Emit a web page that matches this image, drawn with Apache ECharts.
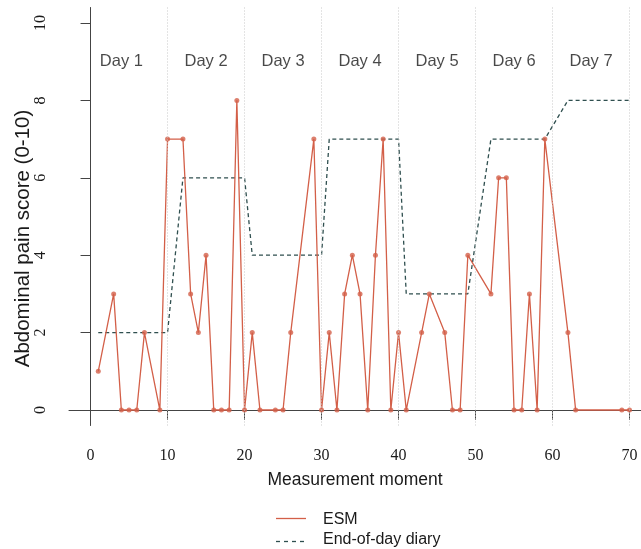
<!DOCTYPE html>
<html>
<head>
<meta charset="utf-8">
<script src="https://cdn.jsdelivr.net/npm/echarts@6/dist/echarts.min.js"></script>
<style>
  html, body { margin: 0; padding: 0; background: #fff; }
  #chart { width: 641px; height: 549px; }
</style>
</head>
<body>
<div id="chart"></div>
<script>
// Measurement moments that have an ESM response
const moments = [1, 3, 4, 5, 6, 7, 9, 10, 12, 13, 14, 15, 16, 17, 18, 19, 20, 21, 22, 24, 25, 26, 29, 30, 31, 32, 33, 34, 35, 36, 37, 38, 39, 40, 41, 43, 44, 46, 47, 48, 49, 52, 53, 54, 55, 56, 57, 58, 59, 62, 63, 69, 70];
// ESM abdominal pain scores at each moment
const esm = [1, 3, 0, 0, 0, 2, 0, 7, 7, 3, 2, 4, 0, 0, 0, 8, 0, 2, 0, 0, 0, 2, 7, 0, 2, 0, 3, 4, 3, 0, 4, 7, 0, 2, 0, 2, 3, 2, 0, 0, 4, 3, 6, 6, 0, 0, 3, 0, 7, 2, 0, 0, 0];
// End-of-day diary score carried over each moment of that day
const diary = [2, 2, 2, 2, 2, 2, 2, 2, 6, 6, 6, 6, 6, 6, 6, 6, 6, 4, 4, 4, 4, 4, 4, 4, 7, 7, 7, 7, 7, 7, 7, 7, 7, 7, 3, 3, 3, 3, 3, 3, 3, 7, 7, 7, 7, 7, 7, 7, 7, 8, 8, 8, 8];
// Day labels and where they sit
const dayLabels = ['Day 1', 'Day 2', 'Day 3', 'Day 4', 'Day 5', 'Day 6', 'Day 7'];
const dayLabelX = [4, 15, 25, 35, 45, 55, 65];
const dayLabelY = 9;
// Day boundaries
const dayBounds = [10, 20, 30, 40, 50, 60, 70];
// Axis ticks
const xTicks = [0, 10, 20, 30, 40, 50, 60, 70];
const yTicks = [0, 2, 4, 6, 8, 10];

const esmColor = '#d35f48';
const diaryColor = '#2f4f4f';
const axisColor = '#444';
const textColor = '#1a1a1a';
const serif = '"Liberation Serif", "DejaVu Serif", serif';
const sans = '"Liberation Sans", Arial, sans-serif';

const esmPairs = moments.map((m, i) => [m, esm[i]]);
const diaryPairs = moments.map((m, i) => [m, diary[i]]);
const dayPoints = dayLabelX.map((x, i) => [x, dayLabelY, dayLabels[i]]);

const chart = echarts.init(document.getElementById('chart'), null, { renderer: 'canvas' });

chart.setOption({
  animation: false,
  backgroundColor: '#fff',
  grid: { left: 69, top: 7.5, width: 572, height: 418, containLabel: false, outerBoundsMode: 'none' },
  xAxis: {
    type: 'value',
    min: -2.8,
    max: 71.49,
    name: 'Measurement moment',
    nameLocation: 'middle',
    nameGap: 46,
    nameMoveOverlap: false,
    nameTextStyle: { fontFamily: sans, fontSize: 17.5, color: textColor },
    axisLine: { show: true, lineStyle: { color: axisColor, width: 1 } },
    axisTick: { show: true, customValues: xTicks, length: 10, lineStyle: { color: axisColor } },
    axisLabel: { customValues: xTicks, margin: 22, fontFamily: serif, fontSize: 16, color: textColor },
    splitLine: { show: false }
  },
  yAxis: {
    type: 'value',
    min: -0.4,
    max: 10.4,
    name: 'Abdominal pain score (0-10)',
    nameLocation: 'middle',
    nameGap: 35.5,
    nameRotate: 90,
    nameMoveOverlap: false,
    nameTextStyle: { fontFamily: sans, fontSize: 20.5, color: textColor, padding: [0, 44, 0, 0] },
    axisLine: { show: true, lineStyle: { color: axisColor, width: 1 } },
    axisTick: { show: true, customValues: yTicks, length: 10, lineStyle: { color: axisColor } },
    axisLabel: { customValues: yTicks, rotate: 90, margin: 20, fontFamily: serif, fontSize: 16, color: textColor },
    splitLine: { show: false }
  },
  // Legend key drawn below the plot
  graphic: [
    { type: 'line', shape: { x1: 276, y1: 518.5, x2: 306, y2: 518.5 }, style: { stroke: esmColor, lineWidth: 1.3 }, silent: true },
    { type: 'text', x: 323, y: 520, style: { text: 'ESM', font: '16px ' + sans, fill: textColor, verticalAlign: 'middle' }, silent: true },
    { type: 'line', shape: { x1: 276, y1: 541.5, x2: 306, y2: 541.5 }, style: { stroke: diaryColor, lineWidth: 1.3, lineDash: [4, 4] }, silent: true },
    { type: 'text', x: 323, y: 540, style: { text: 'End-of-day diary', font: '16px ' + sans, fill: textColor, verticalAlign: 'middle' }, silent: true }
  ],
  series: [
    {
      name: 'ESM',
      type: 'line',
      data: esmPairs,
      symbol: 'none',
      lineStyle: { color: esmColor, width: 1.3 },
      itemStyle: { color: esmColor },
      z: 3,
      markLine: {
        silent: true,
        symbol: 'none',
        label: { show: false },
        lineStyle: { color: '#c8c8c8', type: [1, 2], width: 1 },
        data: dayBounds.map(v => ({ xAxis: v }))
      }
    },
    {
      name: 'ESM points',
      type: 'scatter',
      data: esmPairs,
      symbol: 'circle',
      symbolSize: 5,
      itemStyle: { color: esmColor },
      z: 4
    },
    {
      name: 'End-of-day diary',
      type: 'line',
      data: diaryPairs,
      symbol: 'none',
      lineStyle: { color: diaryColor, width: 1.3, type: [4, 3] },
      itemStyle: { color: diaryColor },
      z: 2
    },
    {
      name: 'Days',
      type: 'scatter',
      data: dayPoints,
      symbolSize: 0,
      silent: true,
      label: {
        show: true,
        position: 'inside',
        formatter: p => p.value[2],
        fontFamily: sans,
        fontSize: 16.5,
        color: textColor,
        textBorderWidth: 0
      }
    }
  ]
});
</script>
</body>
</html>
